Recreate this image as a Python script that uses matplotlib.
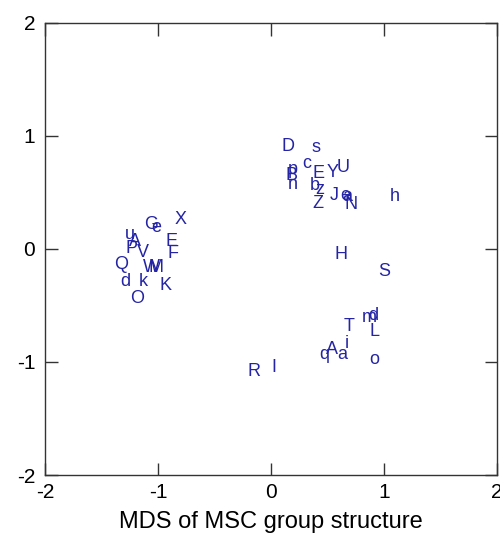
import matplotlib
matplotlib.use("Agg")
import matplotlib.pyplot as plt

plt.rcParams['font.family'] = ['Liberation Sans', 'DejaVu Sans']

labels = ['D', 's', 'c', 'E', 'Y', 'U', 'p', 'B', 'n', 'b', 'z', 'Z', 'J', 'e', 'a', 'N', 'h',
          'H', 'S', 'T', 'm', 'd', 'L', 'o', 'q', 'A', 'a', 'i', 'R', 'I',
          'X', 'G', 'e', 'E', 'F', 'u', 'A', 'P', 'V', 'Q', 'W', 'M', 'd', 'k', 'K', 'O']
xs = [0.09, 0.36, 0.28, 0.37, 0.49, 0.58, 0.15, 0.13, 0.15, 0.34, 0.39, 0.37, 0.52, 0.61, 0.63, 0.65, 1.05,
      0.56, 0.95, 0.64, 0.80, 0.86, 0.87, 0.87, 0.43, 0.49, 0.59, 0.65, -0.21, 0.00,
      -0.85, -1.12, -1.06, -0.93, -0.92, -1.29, -1.26, -1.29, -1.19, -1.39, -1.13, -1.08, -1.33, -1.17, -0.99, -1.25]
ys = [0.91, 0.90, 0.76, 0.67, 0.68, 0.72, 0.70, 0.65, 0.57, 0.56, 0.53, 0.40, 0.47, 0.47, 0.46, 0.39, 0.46,
      -0.05, -0.20, -0.69, -0.61, -0.59, -0.73, -0.98, -0.93, -0.89, -0.93, -0.84, -1.08, -1.05,
      0.26, 0.22, 0.19, 0.07, -0.04, 0.13, 0.07, 0.00, -0.03, -0.14, -0.16, -0.16, -0.29, -0.29, -0.32, -0.44]
xticks = [-2, -1, 0, 1, 2]
yticks = [-2, -1, 0, 1, 2]
xlabel = 'MDS of MSC group structure'

color = '#2424a4'

fig = plt.figure(figsize=(5.0, 5.46), dpi=100)
ax = fig.add_axes([0.09, 0.130, 0.904, 0.828])
for lab, x, y in zip(labels, xs, ys):
    ax.text(x, y, lab, color=color, fontsize=13, ha='left', va='center')
ax.set_xlim(-2, 2)
ax.set_ylim(-2, 2)
ax.set_xticks(xticks)
ax.set_yticks(yticks)
ax.set_xticklabels([str(t) for t in xticks])
ax.set_yticklabels([str(t) for t in yticks])
ax.tick_params(direction='in', length=9, width=1.0, top=True, right=True,
               labelsize=15, colors='black', color='#333333')
ax.tick_params(axis='x', pad=6)
ax.tick_params(axis='y', pad=7)
for sp in ax.spines.values():
    sp.set_linewidth(1.0)
    sp.set_color('#333333')
ax.set_xlabel(xlabel, fontsize=17, labelpad=6)
fig.savefig('out.png', dpi=100)
